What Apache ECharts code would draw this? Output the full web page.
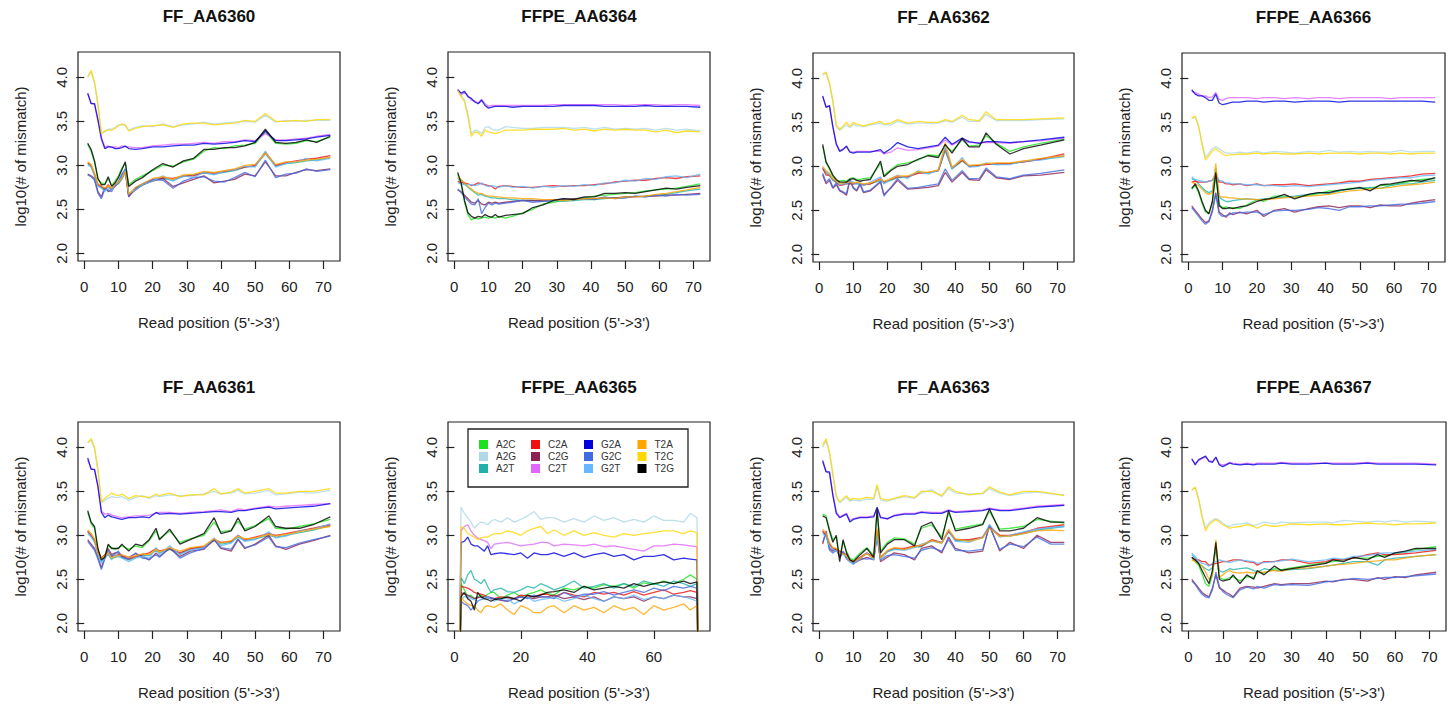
<!DOCTYPE html>
<html><head><meta charset="utf-8">
<script src="https://cdn.jsdelivr.net/npm/echarts@6/dist/echarts.min.js"></script>
<style>html,body{margin:0;padding:0;background:#fff}#c{width:1448px;height:705px}</style>
</head><body><div id="c"></div>
<script>
// ---------------- DATA ----------------
const types = ['A2C','A2G','A2T','C2A','C2G','C2T','G2A','G2C','G2T','T2A','T2C','T2G'];
const panelTitles = ['FF_AA6360','FFPE_AA6364','FF_AA6362','FFPE_AA6366','FF_AA6361','FFPE_AA6365','FF_AA6363','FFPE_AA6367'];
const xTickLabels = [0,10,20,30,40,50,60,70];
const xTickLabels6 = [0,20,40,60];
const yTickLabels = [2.0,2.5,3.0,3.5,4.0];

// Panel 1: FF_AA6360
const xs1 = [1,2,3,4,5,6,7,8,9,10,11,12,13,15,17,20,23,26,29,32,35,38,41,44,47,50,53,56,59,62,65,68,72];
const p1_T2C = [4.00,4.08,3.95,3.70,3.36,3.39,3.40,3.40,3.42,3.45,3.47,3.46,3.39,3.42,3.44,3.45,3.46,3.43,3.47,3.48,3.48,3.46,3.47,3.48,3.51,3.50,3.59,3.50,3.50,3.51,3.50,3.52,3.52];
const p1_A2G = [4.01,4.06,3.93,3.68,3.37,3.38,3.41,3.41,3.43,3.46,3.46,3.45,3.40,3.43,3.45,3.44,3.47,3.44,3.46,3.47,3.49,3.47,3.48,3.49,3.50,3.49,3.57,3.49,3.51,3.50,3.51,3.51,3.51];
const p1_G2A = [3.82,3.70,3.70,3.52,3.30,3.19,3.21,3.21,3.19,3.19,3.20,3.22,3.19,3.18,3.19,3.21,3.21,3.22,3.23,3.23,3.25,3.24,3.25,3.26,3.28,3.27,3.39,3.28,3.28,3.29,3.30,3.32,3.34];
const p1_C2T = [3.81,3.71,3.69,3.50,3.32,3.21,3.22,3.20,3.21,3.20,3.22,3.21,3.21,3.20,3.20,3.22,3.23,3.24,3.24,3.25,3.26,3.25,3.27,3.27,3.29,3.28,3.36,3.29,3.29,3.30,3.31,3.33,3.35];
const p1_T2G = [3.25,3.18,3.05,2.85,2.78,2.78,2.87,2.76,2.80,2.86,2.95,3.04,2.76,2.82,2.86,2.95,3.02,2.98,3.05,3.08,3.18,3.18,3.20,3.20,3.22,3.26,3.41,3.26,3.25,3.26,3.29,3.26,3.33];
const p1_A2C = [3.24,3.16,3.03,2.84,2.80,2.79,2.85,2.77,2.82,2.88,2.97,3.02,2.78,2.84,2.88,2.94,3.00,2.99,3.04,3.07,3.16,3.20,3.19,3.22,3.23,3.25,3.38,3.25,3.24,3.25,3.28,3.27,3.32];
const p1_C2A = [3.03,3.00,2.90,2.78,2.76,2.73,2.78,2.73,2.78,2.80,2.86,2.94,2.64,2.74,2.78,2.84,2.86,2.85,2.88,2.88,2.92,2.91,2.93,2.95,2.98,3.00,3.15,3.00,3.03,3.05,3.07,3.08,3.11];
const p1_T2A = [3.04,3.01,2.91,2.79,2.77,2.74,2.77,2.74,2.79,2.81,2.85,2.93,2.67,2.75,2.79,2.85,2.87,2.84,2.89,2.90,2.93,2.92,2.94,2.96,3.00,3.01,3.14,3.01,3.04,3.04,3.06,3.07,3.09];
const p1_A2T = [3.02,2.99,2.89,2.77,2.75,2.72,2.76,2.72,2.77,2.79,2.84,2.92,2.66,2.73,2.77,2.83,2.85,2.83,2.87,2.89,2.91,2.90,2.92,2.94,2.98,2.99,3.13,2.99,3.02,3.03,3.05,3.06,3.09];
const p1_G2T = [3.00,2.98,2.88,2.76,2.74,2.70,2.75,2.71,2.78,2.80,2.87,2.95,2.68,2.72,2.78,2.82,2.88,2.82,2.88,2.86,2.92,2.89,2.94,2.95,2.99,2.98,3.16,2.98,3.02,3.04,3.08,3.05,3.08];
const p1_C2G = [2.90,2.88,2.85,2.70,2.64,2.75,2.70,2.72,2.76,2.80,2.88,2.95,2.66,2.72,2.78,2.82,2.85,2.76,2.80,2.84,2.88,2.80,2.82,2.84,2.90,2.88,3.04,2.88,2.88,2.92,2.95,2.94,2.96];
const p1_G2C = [2.89,2.87,2.83,2.68,2.62,2.73,2.72,2.70,2.78,2.82,2.90,2.96,2.64,2.74,2.79,2.84,2.83,2.74,2.82,2.86,2.87,2.82,2.81,2.86,2.92,2.87,3.06,2.86,2.90,2.91,2.96,2.93,2.95];

// Panel 2: FFPE_AA6364
const xs2 = [1,2,3,4,5,6,7,8,9,10,11,12,13,15,17,20,23,26,29,32,35,38,41,44,47,50,53,56,59,62,65,68,72];
const p2_G2A = [3.86,3.82,3.84,3.78,3.76,3.72,3.70,3.74,3.68,3.65,3.66,3.67,3.67,3.67,3.66,3.67,3.67,3.67,3.67,3.68,3.68,3.68,3.68,3.67,3.67,3.67,3.67,3.68,3.67,3.67,3.67,3.67,3.66];
const p2_C2T = [3.86,3.80,3.83,3.79,3.74,3.73,3.71,3.75,3.70,3.67,3.68,3.68,3.68,3.68,3.68,3.68,3.68,3.68,3.69,3.69,3.69,3.69,3.69,3.69,3.69,3.68,3.69,3.69,3.69,3.68,3.69,3.69,3.68];
const p2_T2C = [3.85,3.78,3.72,3.55,3.33,3.38,3.37,3.33,3.40,3.38,3.37,3.36,3.37,3.40,3.40,3.40,3.41,3.41,3.41,3.42,3.40,3.41,3.39,3.41,3.40,3.41,3.40,3.40,3.38,3.40,3.37,3.39,3.38];
const p2_A2G = [3.85,3.79,3.74,3.58,3.36,3.40,3.39,3.36,3.43,3.44,3.41,3.40,3.40,3.44,3.43,3.42,3.42,3.43,3.43,3.43,3.42,3.43,3.41,3.43,3.41,3.42,3.41,3.42,3.40,3.42,3.40,3.41,3.39];
const p2_C2A = [2.82,2.80,2.80,2.79,2.77,2.78,2.80,2.79,2.78,2.77,2.76,2.73,2.76,2.77,2.76,2.75,2.75,2.76,2.77,2.76,2.77,2.77,2.78,2.79,2.81,2.82,2.83,2.83,2.85,2.86,2.85,2.87,2.88];
const p2_G2T = [2.80,2.79,2.78,2.78,2.78,2.77,2.78,2.80,2.77,2.76,2.77,2.76,2.75,2.77,2.75,2.76,2.74,2.76,2.75,2.77,2.76,2.78,2.77,2.80,2.80,2.83,2.82,2.85,2.84,2.87,2.88,2.86,2.90];
const p2_T2G = [2.92,2.80,2.60,2.46,2.42,2.40,2.42,2.41,2.44,2.42,2.41,2.44,2.41,2.43,2.44,2.45,2.52,2.55,2.60,2.62,2.61,2.64,2.64,2.68,2.68,2.69,2.68,2.70,2.72,2.74,2.73,2.75,2.77];
const p2_A2C = [2.90,2.78,2.58,2.44,2.38,2.40,2.39,2.40,2.41,2.40,2.41,2.40,2.42,2.40,2.42,2.46,2.50,2.56,2.58,2.60,2.62,2.63,2.65,2.66,2.67,2.68,2.69,2.71,2.72,2.73,2.74,2.76,2.79];
const p2_T2A = [2.86,2.84,2.80,2.76,2.73,2.70,2.68,2.68,2.66,2.65,2.65,2.64,2.64,2.63,2.63,2.62,2.62,2.61,2.61,2.60,2.61,2.62,2.62,2.63,2.62,2.64,2.64,2.65,2.67,2.68,2.70,2.72,2.75];
const p2_A2T = [2.85,2.83,2.79,2.75,2.72,2.69,2.66,2.67,2.65,2.64,2.63,2.63,2.62,2.62,2.61,2.60,2.60,2.59,2.60,2.59,2.60,2.61,2.61,2.62,2.63,2.63,2.65,2.64,2.66,2.67,2.69,2.71,2.73];
const p2_C2G = [2.72,2.70,2.66,2.62,2.58,2.57,2.60,2.56,2.55,2.58,2.57,2.58,2.57,2.58,2.59,2.60,2.60,2.60,2.61,2.61,2.62,2.62,2.62,2.63,2.63,2.64,2.64,2.65,2.65,2.66,2.66,2.67,2.68];
const p2_G2C = [2.73,2.69,2.64,2.60,2.56,2.55,2.62,2.45,2.52,2.57,2.55,2.57,2.56,2.57,2.58,2.60,2.58,2.59,2.60,2.62,2.61,2.63,2.61,2.64,2.62,2.63,2.65,2.64,2.66,2.65,2.67,2.66,2.67];

// Panel 3: FF_AA6362
const xs3 = [1,2,3,4,5,6,7,8,9,10,11,12,13,15,18,19,21,23,26,29,32,35,37,39,42,44,47,49,52,56,60,65,72];
const p3_T2C = [4.05,4.07,3.95,3.75,3.47,3.42,3.46,3.50,3.45,3.50,3.48,3.47,3.46,3.48,3.51,3.48,3.49,3.53,3.49,3.51,3.50,3.50,3.53,3.51,3.58,3.53,3.52,3.62,3.53,3.53,3.53,3.54,3.55];
const p3_A2G = [4.04,4.06,3.93,3.73,3.45,3.41,3.44,3.47,3.44,3.48,3.46,3.46,3.45,3.47,3.49,3.47,3.47,3.51,3.48,3.49,3.49,3.49,3.52,3.50,3.56,3.51,3.51,3.59,3.52,3.52,3.52,3.53,3.54];
const p3_G2A = [3.80,3.67,3.69,3.45,3.25,3.17,3.19,3.23,3.16,3.15,3.16,3.16,3.16,3.16,3.19,3.15,3.20,3.27,3.22,3.20,3.22,3.24,3.33,3.25,3.32,3.28,3.26,3.28,3.28,3.27,3.28,3.30,3.33];
const p3_C2T = [3.79,3.68,3.68,3.44,3.26,3.18,3.20,3.22,3.17,3.16,3.17,3.17,3.17,3.17,3.17,3.14,3.16,3.21,3.18,3.19,3.21,3.23,3.30,3.24,3.30,3.27,3.27,3.27,3.27,3.26,3.28,3.29,3.32];
const p3_T2G = [3.25,3.05,2.98,2.90,2.85,2.82,2.82,2.82,2.85,2.86,2.84,2.83,2.84,2.85,3.06,2.88,2.95,3.00,3.02,3.08,3.12,3.10,3.25,3.15,3.32,3.22,3.22,3.38,3.25,3.14,3.20,3.24,3.30];
const p3_A2C = [3.23,3.04,2.97,2.88,2.84,2.83,2.84,2.83,2.86,2.87,2.85,2.85,2.86,2.87,3.03,2.90,2.96,3.02,3.04,3.07,3.13,3.12,3.23,3.17,3.30,3.23,3.24,3.35,3.26,3.17,3.22,3.26,3.31];
const p3_C2A = [2.98,2.90,2.90,2.85,2.82,2.78,2.79,2.80,2.80,2.80,2.81,2.80,2.79,2.80,2.86,2.82,2.85,2.88,2.88,2.92,2.93,2.95,3.20,2.98,3.07,3.00,3.01,3.02,3.03,3.03,3.05,3.08,3.14];
const p3_T2A = [3.00,2.95,2.92,2.86,2.84,2.80,2.81,2.82,2.82,2.81,2.82,2.81,2.80,2.81,2.85,2.83,2.86,2.89,2.89,2.94,2.93,2.96,3.27,2.99,3.08,3.01,3.02,3.03,3.04,3.04,3.06,3.09,3.12];
const p3_A2T = [2.97,2.93,2.89,2.84,2.82,2.79,2.80,2.81,2.81,2.80,2.80,2.80,2.79,2.80,2.84,2.81,2.84,2.87,2.88,2.93,2.92,2.95,3.18,2.97,3.06,3.00,3.01,3.03,3.02,3.03,3.05,3.08,3.11];
const p3_G2T = [2.99,2.94,2.91,2.85,2.83,2.79,2.80,2.80,2.83,2.82,2.80,2.81,2.78,2.82,2.88,2.80,2.86,2.90,2.86,2.95,2.91,2.96,3.22,2.97,3.10,2.99,3.00,3.04,3.02,3.02,3.06,3.07,3.12];
const p3_C2G = [2.90,2.80,2.84,2.75,2.79,2.72,2.70,2.67,2.84,2.75,2.72,2.79,2.70,2.72,2.82,2.68,2.75,2.84,2.74,2.75,2.76,2.78,2.93,2.82,2.93,2.85,2.84,2.96,2.87,2.85,2.89,2.90,2.93];
const p3_G2C = [2.92,2.82,2.86,2.76,2.81,2.73,2.71,2.69,2.86,2.76,2.73,2.81,2.71,2.73,2.83,2.66,2.76,2.86,2.75,2.76,2.78,2.80,2.97,2.84,2.95,2.86,2.86,2.98,2.88,2.86,2.90,2.92,2.96];

// Panel 4: FFPE_AA6366
const xs4 = [1,2,3,4,5,6,7,8,9,10,11,12,13,15,17,20,22,25,28,31,35,38,41,44,47,50,53,56,59,62,65,68,72];
const p4_G2A = [3.87,3.82,3.80,3.80,3.78,3.75,3.75,3.82,3.72,3.70,3.71,3.72,3.73,3.73,3.74,3.74,3.73,3.74,3.74,3.73,3.74,3.74,3.74,3.73,3.74,3.74,3.74,3.74,3.74,3.74,3.74,3.74,3.73];
const p4_C2T = [3.85,3.84,3.82,3.80,3.80,3.78,3.79,3.84,3.76,3.75,3.77,3.78,3.78,3.78,3.78,3.77,3.78,3.78,3.77,3.78,3.77,3.78,3.78,3.77,3.78,3.78,3.78,3.78,3.77,3.78,3.78,3.78,3.78];
const p4_T2C = [3.55,3.57,3.45,3.25,3.07,3.12,3.17,3.20,3.17,3.14,3.12,3.13,3.13,3.14,3.14,3.15,3.14,3.15,3.14,3.14,3.15,3.14,3.15,3.15,3.15,3.14,3.15,3.15,3.14,3.15,3.14,3.15,3.15];
const p4_A2G = [3.54,3.56,3.46,3.27,3.10,3.15,3.20,3.22,3.20,3.17,3.15,3.15,3.15,3.16,3.15,3.17,3.15,3.17,3.16,3.15,3.17,3.16,3.18,3.16,3.17,3.16,3.17,3.16,3.16,3.18,3.16,3.17,3.17];
const p4_C2A = [2.82,2.83,2.82,2.82,2.82,2.83,2.84,2.90,2.82,2.82,2.80,2.80,2.79,2.80,2.78,2.80,2.78,2.79,2.79,2.80,2.78,2.79,2.80,2.81,2.83,2.83,2.85,2.86,2.87,2.88,2.89,2.91,2.92];
const p4_G2T = [2.88,2.85,2.84,2.83,2.82,2.83,2.84,2.92,2.84,2.83,2.81,2.81,2.80,2.80,2.79,2.79,2.78,2.78,2.77,2.78,2.77,2.78,2.79,2.80,2.81,2.82,2.84,2.85,2.86,2.87,2.87,2.89,2.90];
const p4_A2T = [2.86,2.84,2.80,2.76,2.72,2.70,2.72,2.98,2.65,2.62,2.60,2.60,2.61,2.62,2.63,2.62,2.63,2.64,2.65,2.66,2.68,2.70,2.69,2.72,2.74,2.75,2.76,2.75,2.78,2.80,2.80,2.82,2.84];
const p4_T2A = [2.82,2.80,2.78,2.74,2.70,2.68,2.70,3.03,2.66,2.65,2.65,2.64,2.64,2.63,2.63,2.62,2.62,2.63,2.64,2.65,2.66,2.67,2.68,2.70,2.72,2.73,2.74,2.75,2.76,2.78,2.79,2.80,2.82];
const p4_T2G = [2.75,2.80,2.72,2.60,2.50,2.46,2.60,2.93,2.55,2.52,2.52,2.53,2.52,2.54,2.55,2.60,2.62,2.64,2.68,2.63,2.68,2.70,2.70,2.73,2.74,2.76,2.72,2.79,2.80,2.82,2.84,2.83,2.87];
const p4_A2C = [2.74,2.78,2.70,2.58,2.48,2.46,2.58,2.90,2.57,2.53,2.54,2.52,2.53,2.52,2.56,2.62,2.60,2.66,2.66,2.65,2.67,2.69,2.72,2.72,2.75,2.75,2.75,2.78,2.79,2.81,2.83,2.85,2.86];
const p4_C2G = [2.55,2.50,2.45,2.40,2.36,2.38,2.50,2.70,2.48,2.45,2.42,2.47,2.45,2.48,2.46,2.50,2.43,2.50,2.52,2.48,2.52,2.54,2.55,2.53,2.55,2.55,2.53,2.56,2.55,2.55,2.58,2.60,2.62];
const p4_G2C = [2.53,2.48,2.43,2.38,2.34,2.37,2.48,2.68,2.46,2.43,2.44,2.45,2.47,2.47,2.48,2.48,2.45,2.49,2.50,2.50,2.51,2.53,2.52,2.50,2.54,2.54,2.55,2.55,2.56,2.57,2.57,2.58,2.60];

// Panel 5: FF_AA6361
const xs5 = [1,2,3,4,5,6,7,8,9,10,11,13,15,17,19,21,22,25,28,31,35,38,40,43,45,47,50,54,56,59,63,67,72];
const p5_T2C = [4.05,4.10,4.00,3.75,3.38,3.42,3.45,3.48,3.46,3.45,3.47,3.42,3.45,3.44,3.43,3.47,3.45,3.48,3.44,3.46,3.46,3.53,3.47,3.49,3.53,3.48,3.50,3.53,3.48,3.48,3.50,3.50,3.53];
const p5_A2G = [4.06,4.08,3.98,3.73,3.37,3.40,3.42,3.44,3.43,3.43,3.44,3.40,3.43,3.45,3.42,3.45,3.44,3.46,3.45,3.45,3.47,3.50,3.47,3.48,3.51,3.47,3.48,3.51,3.46,3.47,3.49,3.48,3.51];
const p5_G2A = [3.88,3.75,3.75,3.55,3.26,3.20,3.23,3.21,3.20,3.19,3.18,3.20,3.20,3.21,3.20,3.26,3.24,3.25,3.24,3.25,3.26,3.27,3.27,3.26,3.28,3.28,3.30,3.32,3.30,3.31,3.32,3.33,3.36];
const p5_C2T = [3.86,3.76,3.74,3.57,3.28,3.24,3.25,3.23,3.22,3.21,3.20,3.21,3.22,3.22,3.23,3.25,3.26,3.26,3.25,3.26,3.27,3.28,3.29,3.27,3.30,3.29,3.31,3.33,3.32,3.33,3.34,3.35,3.36];
const p5_T2G = [3.28,3.15,3.10,2.85,2.72,2.75,2.90,2.85,2.85,2.85,2.90,2.82,2.90,2.88,2.95,3.08,2.95,3.07,2.90,2.95,3.02,3.20,3.02,3.05,3.20,3.05,3.10,3.22,3.10,3.08,3.08,3.12,3.21];
const p5_A2C = [3.26,3.13,3.08,2.83,2.74,2.76,2.88,2.86,2.84,2.86,2.88,2.84,2.88,2.86,2.94,3.05,2.96,3.05,2.92,2.96,3.00,3.15,3.04,3.06,3.16,3.07,3.11,3.19,3.08,3.07,3.10,3.13,3.18];
const p5_C2A = [3.05,3.00,2.95,2.82,2.74,2.78,2.80,2.76,2.77,2.78,2.76,2.73,2.76,2.78,2.80,2.85,2.82,2.85,2.80,2.85,2.87,2.95,2.92,2.93,3.00,2.95,2.98,3.02,3.00,3.02,3.05,3.08,3.12];
const p5_T2A = [3.06,3.02,2.96,2.80,2.73,2.77,2.80,2.74,2.76,2.77,2.78,2.75,2.77,2.79,2.78,2.84,2.81,2.86,2.82,2.86,2.88,2.96,2.91,2.94,2.99,2.96,2.97,3.01,2.99,3.01,3.04,3.07,3.10];
const p5_A2T = [3.04,2.99,2.93,2.79,2.70,2.76,2.78,2.73,2.75,2.76,2.75,2.72,2.75,2.77,2.77,2.83,2.80,2.84,2.79,2.84,2.86,2.94,2.90,2.92,2.98,2.94,2.96,3.00,2.98,3.00,3.03,3.06,3.11];
const p5_G2T = [3.02,2.98,2.92,2.78,2.68,2.74,2.79,2.72,2.78,2.76,2.74,2.70,2.74,2.76,2.74,2.86,2.78,2.88,2.78,2.83,2.86,2.97,2.88,2.91,3.00,2.93,2.95,3.04,2.97,2.99,3.05,3.07,3.13];
const p5_C2G = [2.95,2.90,2.85,2.75,2.63,2.75,2.85,2.78,2.80,2.80,2.77,2.75,2.79,2.76,2.72,2.80,2.76,2.85,2.76,2.82,2.84,2.95,2.85,2.82,2.95,2.85,2.90,3.00,2.88,2.84,2.90,2.94,3.00];
const p5_G2C = [2.93,2.88,2.83,2.73,2.61,2.73,2.83,2.76,2.79,2.82,2.75,2.73,2.80,2.74,2.73,2.78,2.75,2.86,2.74,2.80,2.85,2.96,2.86,2.84,2.96,2.86,2.89,2.98,2.87,2.86,2.91,2.95,2.99];

// Panel 6: FFPE_AA6365
const xs6 = [1,2,3,4,5,6,7,8,9,10,11,12,14,16,18,20,22,24,26,28,30,33,36,39,42,45,48,51,54,57,60,63,66,69,71,73,74];
const p6_A2G = [0,3.32,3.25,3.20,3.15,3.08,3.12,3.15,3.14,3.12,3.16,3.18,3.15,3.20,3.15,3.18,3.22,3.27,3.18,3.20,3.20,3.15,3.19,3.15,3.22,3.17,3.20,3.15,3.18,3.15,3.22,3.17,3.17,3.15,3.25,3.20,0];
const p6_T2C = [0,3.10,3.08,3.02,3.00,2.98,2.95,2.97,2.98,2.98,3.00,3.02,3.02,3.05,3.03,3.00,3.05,3.08,3.10,3.02,3.06,3.00,3.05,3.00,3.03,3.00,2.98,3.02,3.00,3.02,3.03,3.05,3.05,3.02,3.05,3.03,0];
const p6_C2T = [0,3.05,3.10,3.12,3.05,3.00,2.97,2.95,2.94,2.92,2.85,2.90,2.91,2.92,2.90,2.88,2.89,2.90,2.92,2.92,2.88,2.90,2.89,2.88,2.90,2.87,2.88,2.86,2.84,2.82,2.88,2.88,2.90,2.89,2.88,2.87,0];
const p6_G2A = [0,2.92,2.93,2.98,2.90,2.88,2.88,2.85,2.82,2.88,2.78,2.79,2.80,2.79,2.78,2.80,2.74,2.80,2.78,2.78,2.80,2.76,2.80,2.75,2.78,2.80,2.76,2.78,2.72,2.76,2.76,2.78,2.72,2.74,2.73,2.72,0];
const p6_A2T = [0,2.52,2.45,2.55,2.60,2.50,2.48,2.45,2.50,2.42,2.35,2.38,2.40,2.36,2.35,2.38,2.42,2.40,2.45,2.42,2.38,2.42,2.48,2.40,2.42,2.45,2.40,2.45,2.42,2.48,2.45,2.42,2.48,2.45,2.42,2.45,0];
const p6_A2C = [0,2.45,2.38,2.30,2.32,2.28,2.30,2.32,2.30,2.33,2.35,2.35,2.28,2.32,2.35,2.30,2.33,2.35,2.38,2.34,2.32,2.40,2.38,2.42,2.40,2.44,2.42,2.45,2.40,2.46,2.44,2.48,2.45,2.50,2.55,2.50,0];
const p6_T2G = [0,2.30,2.35,2.28,2.25,2.15,2.35,2.30,2.28,2.27,2.25,2.27,2.28,2.30,2.28,2.25,2.32,2.30,2.32,2.35,2.36,2.38,2.35,2.42,2.38,2.40,2.42,2.40,2.45,2.42,2.45,2.47,2.45,2.48,2.45,2.47,0];
const p6_C2A = [0,2.42,2.41,2.40,2.38,2.35,2.34,2.33,2.32,2.30,2.29,2.28,2.30,2.29,2.28,2.32,2.31,2.30,2.33,2.33,2.30,2.35,2.32,2.30,2.35,2.33,2.35,2.32,2.36,2.32,2.35,2.38,2.33,2.35,2.37,2.35,0];
const p6_G2T = [0,2.28,2.30,2.30,2.28,2.27,2.25,2.27,2.29,2.30,2.27,2.25,2.28,2.28,2.22,2.26,2.30,2.25,2.27,2.28,2.30,2.25,2.28,2.32,2.28,2.25,2.30,2.28,2.32,2.27,2.30,2.28,2.32,2.30,2.28,2.25,0];
const p6_G2C = [0,2.25,2.22,2.20,2.15,2.20,2.25,2.27,2.28,2.30,2.29,2.28,2.27,2.25,2.28,2.30,2.28,2.32,2.30,2.30,2.28,2.35,2.30,2.33,2.33,2.36,2.32,2.35,2.38,2.35,2.40,2.37,2.42,2.40,2.42,2.40,0];
const p6_C2G = [0,2.35,2.33,2.32,2.30,2.28,2.29,2.30,2.30,2.29,2.28,2.28,2.26,2.25,2.28,2.30,2.29,2.28,2.30,2.30,2.32,2.28,2.30,2.27,2.30,2.25,2.30,2.28,2.30,2.25,2.30,2.28,2.32,2.30,2.30,2.28,0];
const p6_T2A = [0,2.30,2.25,2.22,2.20,2.20,2.15,2.12,2.18,2.20,2.19,2.18,2.22,2.15,2.10,2.20,2.17,2.12,2.12,2.18,2.20,2.12,2.20,2.15,2.18,2.12,2.20,2.15,2.18,2.10,2.20,2.15,2.18,2.22,2.15,2.20,0];

// Panel 7: FF_AA6363
const xs7 = [1,2,3,4,5,6,7,8,9,10,12,14,16,17,18,20,22,25,28,30,33,36,38,40,44,48,50,53,56,60,64,68,72];
const p7_T2C = [4.02,4.10,3.95,3.70,3.45,3.38,3.42,3.45,3.40,3.42,3.41,3.43,3.42,3.58,3.42,3.40,3.42,3.45,3.43,3.50,3.50,3.45,3.55,3.50,3.46,3.48,3.55,3.49,3.46,3.50,3.50,3.48,3.45];
const p7_A2G = [4.00,4.08,3.93,3.68,3.43,3.37,3.40,3.43,3.39,3.40,3.39,3.41,3.41,3.55,3.40,3.39,3.41,3.44,3.42,3.48,3.52,3.44,3.53,3.48,3.47,3.47,3.53,3.48,3.45,3.48,3.49,3.47,3.46];
const p7_G2A = [3.85,3.72,3.72,3.45,3.25,3.20,3.22,3.24,3.15,3.18,3.20,3.20,3.21,3.32,3.20,3.19,3.22,3.24,3.24,3.26,3.25,3.25,3.28,3.26,3.27,3.28,3.30,3.28,3.28,3.30,3.32,3.33,3.34];
const p7_C2T = [3.83,3.73,3.70,3.47,3.27,3.21,3.23,3.25,3.17,3.19,3.21,3.21,3.22,3.30,3.21,3.18,3.23,3.25,3.25,3.27,3.26,3.26,3.29,3.27,3.28,3.29,3.31,3.29,3.29,3.31,3.33,3.34,3.35];
const p7_T2G = [3.22,3.20,3.05,2.92,3.00,2.70,2.95,2.80,2.72,2.70,2.78,2.85,2.75,3.30,2.80,2.90,2.95,2.95,2.88,3.10,3.15,2.95,3.28,3.05,3.08,3.12,3.30,3.05,3.05,3.08,3.20,3.15,3.15];
const p7_A2C = [3.24,3.22,3.07,2.95,2.98,2.74,2.93,2.82,2.74,2.72,2.80,2.86,2.77,3.26,2.82,2.92,2.97,2.96,2.90,3.08,3.12,2.98,3.25,3.07,3.10,3.13,3.27,3.07,3.08,3.10,3.18,3.16,3.14];
const p7_C2A = [3.05,3.00,2.90,2.85,2.84,2.82,2.80,2.78,2.72,2.70,2.75,2.80,2.75,3.05,2.75,2.82,2.85,2.85,2.88,2.88,2.95,2.92,3.05,2.95,2.95,2.98,3.10,3.00,3.00,3.03,3.08,3.10,3.12];
const p7_T2A = [3.07,3.02,2.92,2.86,2.85,2.80,2.79,2.77,2.71,2.70,2.74,2.79,2.74,3.08,2.74,2.83,2.86,2.84,2.87,2.89,2.94,2.91,3.07,2.96,2.93,2.97,3.08,2.99,2.99,3.02,3.05,3.06,3.05];
const p7_A2T = [3.04,2.99,2.89,2.84,2.83,2.81,2.79,2.77,2.71,2.69,2.74,2.79,2.74,3.02,2.74,2.81,2.84,2.84,2.87,2.87,2.94,2.91,3.04,2.94,2.94,2.97,3.09,2.99,2.99,3.02,3.06,3.08,3.10];
const p7_G2T = [3.02,2.98,2.88,2.84,2.82,2.80,2.78,2.76,2.70,2.68,2.73,2.80,2.72,3.00,2.73,2.82,2.84,2.83,2.86,2.90,2.93,2.92,3.06,2.93,2.92,2.98,3.12,2.98,3.00,3.04,3.07,3.09,3.10];
const p7_C2G = [2.90,3.05,2.85,2.82,2.85,2.75,2.80,2.75,2.72,2.68,2.72,2.75,2.72,3.02,2.70,2.75,2.80,2.78,2.72,2.85,2.88,2.80,2.98,2.85,2.80,2.82,3.12,2.82,2.92,2.85,3.00,2.92,2.92];
const p7_G2C = [2.92,3.03,2.83,2.80,2.83,2.77,2.82,2.73,2.70,2.67,2.74,2.73,2.74,2.98,2.72,2.77,2.78,2.76,2.74,2.83,2.86,2.82,2.95,2.83,2.82,2.84,3.10,2.84,2.90,2.87,2.98,2.90,2.90];

// Panel 8: FFPE_AA6367
const xs8 = [1,2,3,4,5,6,7,8,9,10,11,12,13,15,17,19,20,22,25,27,30,35,40,42,45,48,52,55,57,60,63,66,72];
const p8_G2A = [3.87,3.80,3.86,3.88,3.90,3.84,3.83,3.89,3.80,3.78,3.80,3.82,3.81,3.80,3.81,3.80,3.81,3.81,3.81,3.82,3.81,3.81,3.82,3.81,3.81,3.81,3.82,3.81,3.81,3.81,3.81,3.81,3.80];
const p8_C2T = [3.86,3.82,3.85,3.87,3.89,3.85,3.84,3.88,3.81,3.80,3.81,3.83,3.82,3.81,3.82,3.81,3.82,3.82,3.82,3.83,3.82,3.82,3.82,3.82,3.82,3.82,3.83,3.82,3.82,3.82,3.82,3.82,3.81];
const p8_T2C = [3.51,3.55,3.40,3.20,3.05,3.12,3.15,3.18,3.15,3.12,3.10,3.08,3.09,3.10,3.12,3.10,3.08,3.12,3.10,3.11,3.13,3.12,3.13,3.12,3.12,3.13,3.14,3.13,3.13,3.12,3.13,3.13,3.14];
const p8_A2G = [3.52,3.54,3.42,3.22,3.08,3.14,3.17,3.19,3.17,3.14,3.11,3.10,3.12,3.13,3.14,3.11,3.12,3.15,3.13,3.15,3.14,3.15,3.15,3.14,3.17,3.16,3.15,3.16,3.15,3.17,3.15,3.16,3.15];
const p8_C2A = [2.75,2.72,2.72,2.70,2.70,2.66,2.67,2.68,2.69,2.70,2.70,2.71,2.72,2.72,2.70,2.69,2.66,2.70,2.70,2.72,2.72,2.68,2.70,2.73,2.72,2.74,2.78,2.80,2.78,2.78,2.79,2.80,2.83];
const p8_G2T = [2.80,2.76,2.70,2.68,2.67,2.65,2.68,2.70,2.72,2.71,2.70,2.69,2.70,2.72,2.71,2.70,2.68,2.69,2.70,2.71,2.73,2.70,2.72,2.74,2.73,2.76,2.77,2.79,2.80,2.80,2.81,2.82,2.84];
const p8_A2T = [2.78,2.74,2.68,2.65,2.62,2.60,2.63,2.85,2.60,2.58,2.60,2.62,2.61,2.62,2.63,2.60,2.58,2.62,2.60,2.60,2.61,2.62,2.65,2.66,2.68,2.70,2.70,2.66,2.72,2.74,2.75,2.76,2.78];
const p8_T2A = [2.72,2.70,2.68,2.65,2.58,2.50,2.55,2.95,2.52,2.55,2.58,2.60,2.58,2.57,2.58,2.57,2.58,2.58,2.60,2.59,2.62,2.63,2.65,2.66,2.67,2.68,2.70,2.71,2.72,2.72,2.74,2.76,2.78];
const p8_T2G = [2.75,2.72,2.68,2.60,2.52,2.45,2.60,2.92,2.50,2.48,2.49,2.50,2.55,2.45,2.55,2.50,2.60,2.55,2.65,2.60,2.62,2.65,2.68,2.72,2.70,2.75,2.72,2.78,2.75,2.80,2.82,2.85,2.85];
const p8_A2C = [2.74,2.70,2.66,2.56,2.45,2.42,2.55,2.88,2.52,2.50,2.50,2.52,2.53,2.48,2.53,2.52,2.58,2.57,2.62,2.61,2.63,2.66,2.69,2.70,2.72,2.74,2.74,2.76,2.77,2.79,2.81,2.84,2.87];
const p8_C2G = [2.50,2.45,2.40,2.35,2.32,2.30,2.40,2.55,2.40,2.38,2.35,2.33,2.30,2.40,2.42,2.41,2.40,2.42,2.45,2.44,2.45,2.45,2.48,2.47,2.50,2.50,2.48,2.52,2.50,2.53,2.52,2.55,2.58];
const p8_G2C = [2.48,2.44,2.38,2.33,2.30,2.29,2.38,2.58,2.42,2.36,2.33,2.31,2.29,2.38,2.41,2.39,2.42,2.40,2.44,2.43,2.44,2.43,2.47,2.48,2.49,2.51,2.50,2.51,2.52,2.52,2.53,2.54,2.56];

// ---------------- ASSEMBLY ----------------
const panelX = [xs1, xs2, xs3, xs4, xs5, xs6, xs7, xs8];
const panelVals = [
  {A2C:p1_A2C,A2G:p1_A2G,A2T:p1_A2T,C2A:p1_C2A,C2G:p1_C2G,C2T:p1_C2T,G2A:p1_G2A,G2C:p1_G2C,G2T:p1_G2T,T2A:p1_T2A,T2C:p1_T2C,T2G:p1_T2G},
  {A2C:p2_A2C,A2G:p2_A2G,A2T:p2_A2T,C2A:p2_C2A,C2G:p2_C2G,C2T:p2_C2T,G2A:p2_G2A,G2C:p2_G2C,G2T:p2_G2T,T2A:p2_T2A,T2C:p2_T2C,T2G:p2_T2G},
  {A2C:p3_A2C,A2G:p3_A2G,A2T:p3_A2T,C2A:p3_C2A,C2G:p3_C2G,C2T:p3_C2T,G2A:p3_G2A,G2C:p3_G2C,G2T:p3_G2T,T2A:p3_T2A,T2C:p3_T2C,T2G:p3_T2G},
  {A2C:p4_A2C,A2G:p4_A2G,A2T:p4_A2T,C2A:p4_C2A,C2G:p4_C2G,C2T:p4_C2T,G2A:p4_G2A,G2C:p4_G2C,G2T:p4_G2T,T2A:p4_T2A,T2C:p4_T2C,T2G:p4_T2G},
  {A2C:p5_A2C,A2G:p5_A2G,A2T:p5_A2T,C2A:p5_C2A,C2G:p5_C2G,C2T:p5_C2T,G2A:p5_G2A,G2C:p5_G2C,G2T:p5_G2T,T2A:p5_T2A,T2C:p5_T2C,T2G:p5_T2G},
  {A2C:p6_A2C,A2G:p6_A2G,A2T:p6_A2T,C2A:p6_C2A,C2G:p6_C2G,C2T:p6_C2T,G2A:p6_G2A,G2C:p6_G2C,G2T:p6_G2T,T2A:p6_T2A,T2C:p6_T2C,T2G:p6_T2G},
  {A2C:p7_A2C,A2G:p7_A2G,A2T:p7_A2T,C2A:p7_C2A,C2G:p7_C2G,C2T:p7_C2T,G2A:p7_G2A,G2C:p7_G2C,G2T:p7_G2T,T2A:p7_T2A,T2C:p7_T2C,T2G:p7_T2G},
  {A2C:p8_A2C,A2G:p8_A2G,A2T:p8_A2T,C2A:p8_C2A,C2G:p8_C2G,C2T:p8_C2T,G2A:p8_G2A,G2C:p8_G2C,G2T:p8_G2T,T2A:p8_T2A,T2C:p8_T2C,T2G:p8_T2G}
];

// styles / layout
const palette = {A2C:'#1EE11E',A2G:'#ADD8E6',A2T:'#20B2AA',C2A:'#EE1111',C2G:'#8B2252',C2T:'#E066FF',
                 G2A:'#0000DD',G2C:'#4169E1',G2T:'#63B8FF',T2A:'#FFA500',T2C:'#FFD700',T2G:'#000000'};
const FONT = '"Liberation Sans", Arial, sans-serif';
const boxes = [[78,52,262,209],[448,52,262,209],[813,53,261,209],[1182,53,263,209],
               [78,422,262,209],[448,422,262,209],[813,422,261,209],[1182,422,264,209]];
const titleTops = [8,8,9,9,379,379,379,379];
const Y_MIN = 1.912, Y_MAX = 4.288;

const grid = [], xAxis = [], yAxis = [], title = [], series = [];
boxes.forEach((b, i) => {
  const isP6 = i === 5;
  grid.push({left:b[0], top:b[1], width:b[2], height:b[3], show:true, borderColor:'#222', borderWidth:1.2,
             backgroundColor:'transparent', containLabel:false, outerBoundsMode:'none'});
  const ticks = isP6 ? xTickLabels6 : xTickLabels;
  xAxis.push({type:'value', gridIndex:i, min: isP6 ? -1.92 : -1.84, max: isP6 ? 76.92 : 74.84,
    splitLine:{show:false}, axisLine:{show:false},
    axisTick:{show:true, length:8, inside:false, customValues:ticks, lineStyle:{color:'#222', width:1.2}},
    axisLabel:{show:true, customValues:ticks, margin:18, fontSize:15, color:'#222', fontFamily:FONT},
    name:"Read position (5'->3')", nameLocation:'middle', nameGap:54,
    nameTextStyle:{fontSize:15, color:'#222', fontFamily:FONT}});
  yAxis.push({type:'value', gridIndex:i, min:Y_MIN, max:Y_MAX,
    splitLine:{show:false}, axisLine:{show:false},
    axisTick:{show:true, length:8, inside:false, customValues:yTickLabels, lineStyle:{color:'#222', width:1.2}},
    axisLabel:{show:true, customValues:yTickLabels, rotate:90, margin:9, fontSize:15, color:'#222', fontFamily:FONT,
               formatter: v => Number(v).toFixed(1)},
    name:'log10(# of mismatch)', nameLocation:'middle', nameGap:50, nameRotate:90,
    nameTextStyle:{fontSize:15, color:'#222', fontFamily:FONT}});
  title.push({text:panelTitles[i], left:b[0] + b[2]/2, top:titleTops[i], textAlign:'center', padding:0,
    textStyle:{fontSize:17, fontWeight:'bold', color:'#111', fontFamily:FONT}});
  types.forEach(t => {
    const vals = panelVals[i][t];
    series.push({type:'line', name:t, xAxisIndex:i, yAxisIndex:i,
      data: panelX[i].map((x, k) => [x, vals[k]]),
      symbol:'none', showSymbol:false, silent:true, clip:true,
      lineStyle:{width:1.3, color:palette[t], opacity:0.8},
      itemStyle:{color:palette[t]}});
  });
});

const legendLefts = [479, 531, 584, 637.5];
const legend = legendLefts.map((lx, c) => ({
  orient:'vertical', left:lx, top:439.5, padding:0, itemGap:2, itemWidth:9, itemHeight:9,
  icon:'rect', selectedMode:false, data: types.slice(c*3, c*3+3),
  textStyle:{fontSize:10, color:'#333', fontFamily:FONT, lineHeight:9, padding:[0,0,0,3]}
}));

const chart = echarts.init(document.getElementById('c'), null, {renderer:'svg'});
chart.setOption({
  animation:false, backgroundColor:'#fff',
  title, grid, xAxis, yAxis, legend, series,
  graphic:[{type:'rect', shape:{x:468, y:429, width:220, height:58}, z:100,
            style:{fill:'transparent', stroke:'#222', lineWidth:1.3}}]
});
</script>
</body></html>
